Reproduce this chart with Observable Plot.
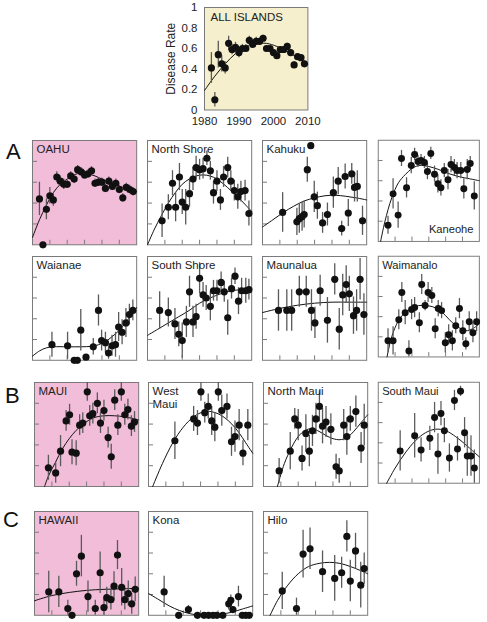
<!DOCTYPE html>
<html><head><meta charset="utf-8">
<script src="https://cdn.jsdelivr.net/npm/d3@7"></script>
<script src="https://cdn.jsdelivr.net/npm/@observablehq/plot@0.6"></script>
<style>
body{margin:0;background:#fff;}
#fig{position:relative;width:487px;height:622px;overflow:hidden;font-family:"Liberation Sans",Arial,sans-serif;}
.panel{position:absolute;}
.letter{position:absolute;font-size:22px;line-height:1;color:#111;font-family:"Liberation Sans",Arial,sans-serif;}
</style></head><body><div id="fig"></div>
<script>
// ---------- tick values ----------
const xTicks = [1985, 1990, 1995, 2000, 2005];
const yTicks = [0.2, 0.4, 0.6, 0.8];
const allXTicks = [1980, 1990, 2000, 2010];
const allYTicks = [0, 0.2, 0.4, 0.6, 0.8, 1];

// ---------- ALL ISLANDS ----------
const allYears = [1982,1983,1984,1985,1986,1987,1988,1989,1990,1991,1992,1993,1994,1995,1996,1997,1998,1999,2000,2001,2002,2003,2004,2005,2006,2007,2008,2009];
const allRates = [0.41,0.10,0.54,0.45,0.41,0.65,0.59,0.61,0.56,0.60,0.60,0.68,0.64,0.67,0.67,0.70,0.60,0.60,0.56,0.53,0.59,0.59,0.62,0.56,0.44,0.52,0.51,0.45];
const allErr = [0.15,0.07,0.13,0.08,0.06,0.07,0.05,0.05,0.05,0.04,0.04,0.04,0.04,0.04,0.03,0.03,0.03,0.03,0.03,0.03,0.03,0.03,0.03,0.03,0.03,0.03,0.03,0.03];
const allFitYears = [1980,1983,1986,1989,1992,1995,1998,2001,2004,2007,2010];
const allFitRates = [0.19,0.33,0.45,0.55,0.62,0.65,0.65,0.62,0.57,0.51,0.45];

// ---------- A: OAHU ----------
const oahuYears = [1982,1983,1984,1985,1986,1987,1988,1989,1990,1991,1992,1993,1994,1995,1996,1997,1998,1999,2000,2001,2002,2003,2004,2005,2006,2007,2008,2009];
const oahuRates = [0.44,0.0,0.34,0.47,0.43,0.65,0.61,0.58,0.58,0.66,0.63,0.72,0.70,0.67,0.68,0.71,0.59,0.60,0.60,0.54,0.61,0.56,0.59,0.53,0.45,0.55,0.53,0.51];
const oahuErr = [0.16,0,0.10,0.08,0.06,0.05,0.05,0.05,0.04,0.04,0.04,0.04,0.04,0.04,0.04,0.04,0.04,0.04,0.04,0.04,0.04,0.04,0.04,0.04,0.04,0.04,0.04,0.04];
const oahuFitYears = [1980,1982,1984,1986,1988,1990,1992,1994,1996,1998,2000,2002,2004,2006,2008,2010];
const oahuFitRates = [0.07,0.24,0.38,0.50,0.58,0.63,0.67,0.69,0.68,0.66,0.63,0.60,0.58,0.55,0.53,0.51];

const northShoreYears = [1984.2,1986.0,1987.2,1988.1,1989.2,1990.0,1991.0,1992.1,1993.1,1994.0,1995.0,1996.0,1997.1,1998.1,1999.0,2000.0,2001.0,2001.9,2003.1,2004.0,2005.0,2006.0,2006.9,2008.1,2009.2];
const northShoreRates = [0.23,0.36,0.59,0.36,0.65,0.41,0.36,0.49,0.63,0.74,0.72,0.73,0.83,0.71,0.50,0.61,0.43,0.65,0.74,0.61,0.52,0.46,0.51,0.52,0.30];
const northShoreErr = [0.16,0.12,0.12,0.14,0.13,0.12,0.17,0.13,0.11,0.11,0.10,0.10,0.07,0.09,0.11,0.10,0.10,0.10,0.10,0.10,0.10,0.12,0.10,0.10,0.12];
const northShoreFitYears = [1980,1982,1984,1986,1988,1990,1992,1994,1996,1998,2000,2002,2004,2006,2008,2010];
const northShoreFitRates = [0.0,0.15,0.28,0.40,0.50,0.58,0.63,0.66,0.67,0.66,0.63,0.58,0.52,0.46,0.39,0.32];

const kahukuYears = [1985.8,1989.9,1990.6,1991.4,1992.0,1992.9,1993.9,1994.9,1995.8,1997.3,1998.7,2000.4,2001.8,2002.8,2003.8,2004.7,2005.7,2006.5,2007.3,2008.8];
const kahukuRates = [0.31,0.22,0.25,0.27,0.29,0.72,0.95,0.46,0.375,0.21,0.29,0.50,0.61,0.155,0.655,0.305,0.68,0.55,0.56,0.23];
const kahukuErr = [0.19,0.13,0.14,0.14,0.13,0.12,0.03,0.15,0.13,0.10,0.11,0.15,0.13,0.07,0.12,0.13,0.10,0.14,0.15,0.14];
const kahukuFitYears = [1980,1983,1986,1989,1992,1995,1998,2001,2004,2007,2010];
const kahukuFitRates = [0.17,0.24,0.31,0.37,0.42,0.45,0.47,0.475,0.465,0.45,0.43];

const kaneoheYears = [1982.9,1984.4,1985.9,1986.9,1988.4,1989.8,1990.8,1991.8,1992.7,1993.7,1994.6,1995.6,1996.7,1997.7,1998.6,1999.6,2000.7,2001.6,2002.6,2003.4,2004.5,2005.4,2006.4,2007.3,2008.5];
const kaneoheRates = [0.16,0.47,0.26,0.82,0.53,0.75,0.86,0.79,0.80,0.78,0.69,0.87,0.665,0.57,0.53,0.70,0.61,0.76,0.73,0.70,0.70,0.52,0.71,0.77,0.45];
const kaneoheErr = [0.09,0.15,0.13,0.08,0.10,0.08,0.06,0.06,0.06,0.06,0.08,0.06,0.08,0.09,0.08,0.07,0.10,0.08,0.08,0.08,0.08,0.10,0.10,0.07,0.14];
const kaneoheFitYears = [1980.7,1982,1984,1986,1988,1990,1992,1995,1998,2001,2004,2007,2010];
const kaneoheFitRates = [0.0,0.2,0.43,0.58,0.66,0.72,0.75,0.74,0.71,0.67,0.64,0.62,0.60];

const waianaeYears = [1985.6,1990.1,1992.0,1992.9,1993.9,1995.4,1997.5,1999.0,1999.9,2001.0,2001.9,2002.9,2003.9,2004.8,2005.8,2006.9,2007.9,2008.9];
const waianaeRates = [0.15,0.14,0.0,0.0,0.29,0.03,0.13,0.48,0.19,0.17,0.07,0.14,0.15,0.32,0.27,0.36,0.44,0.48];
const waianaeErr = [0.12,0.13,0,0,0.20,0.02,0.08,0.15,0.10,0.10,0.06,0.10,0.12,0.14,0.12,0.14,0.10,0.10];
const waianaeFitYears = [1980,1982,1984,1986,1990,1994,1997,1999,2001,2003,2005,2007,2009,2010];
const waianaeFitRates = [0.04,0.09,0.12,0.13,0.13,0.13,0.135,0.15,0.18,0.23,0.29,0.37,0.46,0.51];

const southShoreYears = [1983.5,1986.0,1987.9,1989.0,1990.0,1991.2,1992.1,1993.1,1994.0,1995.0,1996.0,1996.9,1998.1,1999.0,2000.0,2001.2,2002.1,2003.1,2004.2,2005.2,2006.2,2007.1,2008.3,2009.2];
const southShoreRates = [0.48,0.46,0.35,0.25,0.19,0.37,0.66,0.37,0.42,0.79,0.63,0.60,0.52,0.67,0.67,0.75,0.66,0.41,0.69,0.81,0.57,0.67,0.67,0.68];
const southShoreErr = [0.18,0.14,0.15,0.12,0.17,0.15,0.15,0.15,0.12,0.15,0.12,0.12,0.14,0.10,0.10,0.10,0.10,0.17,0.10,0.08,0.13,0.12,0.12,0.10];
const southShoreFitYears = [1980,1983,1986,1989,1992,1995,1998,2001,2004,2007,2010];
const southShoreFitRates = [0.24,0.30,0.36,0.42,0.48,0.55,0.60,0.64,0.67,0.68,0.69];

const maunaluaYears = [1984.6,1987.0,1988.4,1990.6,1992.6,1994.1,1995.1,1996.6,1998.7,2000.8,2002.1,2003.1,2004.1,2005.0,2006.2,2007.1,2008.1,2009.2];
const maunaluaRates = [0.48,0.48,0.48,0.66,0.66,0.48,0.36,0.67,0.385,0.78,0.30,0.63,0.73,0.64,0.43,0.48,0.78,0.44];
const maunaluaErr = [0.20,0.20,0.20,0.15,0.15,0.20,0.15,0.15,0.22,0.15,0.20,0.20,0.18,0.17,0.18,0.20,0.20,0.20];
const maunaluaFitYears = [1980,1985,1990,1995,2000,2005,2010];
const maunaluaFitRates = [0.46,0.50,0.53,0.55,0.56,0.56,0.56];

const waimanaloYears = [1982.9,1984.4,1986.1,1987.0,1988.0,1989.1,1989.9,1990.8,1992.2,1992.9,1993.9,1994.8,1995.9,1996.9,1997.8,1998.8,1999.9,2000.9,2002.0,2003.0,2004.1,2005.1,2006.0,2007.0,2008.1,2009.2];
const waimanaloRates = [0.16,0.16,0.37,0.64,0.44,0.06,0.47,0.49,0.34,0.72,0.51,0.64,0.61,0.28,0.48,0.46,0.14,0.22,0.16,0.31,0.48,0.26,0.13,0.35,0.24,0.35];
const waimanaloErr = [0.12,0.14,0.10,0.10,0.12,0.10,0.10,0.10,0.10,0.10,0.05,0.10,0.08,0.10,0.08,0.08,0.10,0.10,0.10,0.08,0.10,0.10,0.06,0.10,0.10,0.10];
const waimanaloFitYears = [1982.6,1984,1986,1988,1990,1992,1994,1996,1998,2000,2002,2004,2006,2008,2010];
const waimanaloFitRates = [0.0,0.2,0.36,0.44,0.48,0.51,0.51,0.50,0.47,0.41,0.34,0.29,0.26,0.28,0.33];

// ---------- B: MAUI ----------
const mauiYears = [1984.0,1986.1,1987.5,1989.1,1990.1,1990.8,1992.0,1993.0,1993.9,1995.2,1995.9,1996.8,1998.1,1999.0,2000.0,2001.2,2002.1,2003.1,2004.0,2005.0,2006.0,2006.9,2007.9,2008.8];
const mauiRates = [0.18,0.13,0.34,0.63,0.69,0.33,0.32,0.59,0.61,0.91,0.68,0.70,0.80,0.61,0.73,0.47,0.285,0.83,0.59,0.91,0.69,0.74,0.58,0.62];
const mauiErr = [0.12,0.10,0.15,0.10,0.10,0.12,0.12,0.10,0.10,0.09,0.10,0.10,0.10,0.10,0.10,0.10,0.12,0.10,0.10,0.09,0.10,0.10,0.10,0.10];
const mauiFitYears = [1982.9,1984,1986,1988,1990,1992,1994,1997,2000,2003,2006,2010];
const mauiFitRates = [0.0,0.10,0.23,0.36,0.46,0.54,0.60,0.66,0.68,0.68,0.67,0.64];

const westMauiYears = [1987.6,1993.0,1994.1,1995.1,1996.2,1997.2,1998.2,1999.1,2000.1,2001.1,2002.6,2003.9,2004.9,2006.1,2007.2,2008.6];
const westMauiRates = [0.44,0.65,0.61,0.91,0.71,0.77,0.63,0.57,0.91,0.73,0.77,0.43,0.48,0.59,0.32,0.59];
const westMauiErr = [0.18,0.12,0.12,0.09,0.10,0.12,0.14,0.14,0.09,0.15,0.12,0.14,0.15,0.15,0.12,0.15];
const westMauiFitYears = [1981.2,1984,1987,1990,1993,1996,1998,2000,2002,2004,2006,2008,2010];
const westMauiFitRates = [0.0,0.22,0.42,0.57,0.67,0.72,0.72,0.70,0.66,0.60,0.52,0.42,0.32];

const northMauiYears = [1984.5,1987.7,1989.0,1990.0,1991.1,1992.2,1993.2,1994.1,1995.1,1996.1,1997.0,1998.0,1999.4,2000.9,2001.8,2003.1,2004.0,2005.0,2006.6,2008.1,2009.0];
const northMauiRates = [0.15,0.34,0.65,0.59,0.27,0.51,0.34,0.535,0.65,0.77,0.58,0.62,0.55,0.19,0.15,0.59,0.48,0.65,0.72,0.37,0.59];
const northMauiErr = [0.12,0.18,0.10,0.15,0.12,0.18,0.15,0.15,0.15,0.15,0.17,0.15,0.15,0.12,0.12,0.15,0.18,0.12,0.15,0.15,0.20];
const northMauiFitYears = [1984,1986,1988,1990,1992,1994,1996,1998,2000,2002,2004,2006,2008,2010];
const northMauiFitRates = [0.0,0.22,0.37,0.48,0.54,0.555,0.53,0.49,0.46,0.45,0.47,0.53,0.61,0.69];

const southMauiYears = [1986.5,1990.8,1992.7,1995.3,1996.7,1997.7,1998.6,1999.6,2001.1,2002.6,2003.5,2004.4,2005.6,2006.4,2007.5,2008.5];
const southMauiRates = [0.32,0.47,0.33,0.445,0.65,0.29,0.69,0.52,0.25,0.82,0.34,0.91,0.50,0.27,0.27,0.15];
const southMauiErr = [0.20,0.22,0.12,0.12,0.15,0.20,0.12,0.12,0.14,0.10,0.12,0.05,0.15,0.20,0.20,0.18];
const southMauiFitYears = [1982.5,1985,1988,1991,1994,1997,2000,2003,2006,2008,2010];
const southMauiFitRates = [0.0,0.15,0.30,0.42,0.50,0.535,0.52,0.46,0.38,0.32,0.26];

// ---------- C: HAWAII ----------
const hawaiiYears = [1984.1,1987.0,1989.6,1990.8,1992.1,1993.5,1995.4,1997.5,1998.9,2000.0,2000.8,2002.0,2002.9,2003.9,2005.1,2006.0,2007.0,2008.0,2009.0];
const hawaiiRates = [0.225,0.225,0.065,0.0,0.40,0.57,0.18,0.065,0.41,0.075,0.17,0.15,0.28,0.58,0.27,0.15,0.21,0.11,0.25];
const hawaiiErr = [0.20,0.15,0.08,0,0.12,0.20,0.15,0.08,0.20,0.08,0.10,0.10,0.14,0.14,0.18,0.10,0.12,0.10,0.12];
const hawaiiFitYears = [1980,1985,1990,1995,2000,2005,2010];
const hawaiiFitRates = [0.14,0.19,0.22,0.24,0.25,0.255,0.26];

const konaYears = [1984.5,1988.7,1991.5,1994.1,1996.0,1997.3,1998.6,1999.7,2001.4,2003.1,2003.7,2004.3,2005.9,2007.0,2008.0,2009.0];
const konaRates = [0.225,0,0.055,0,0,0,0,0,0,0.11,0.145,0.055,0.18,0,0,0];
const konaErr = [0.15,0,0.04,0,0,0,0,0,0,0.06,0.05,0.03,0.10,0,0,0];
const konaFitYears = [1980,1983,1986,1989,1992,1995,1998,2001,2004,2007,2010];
const konaFitRates = [0.21,0.15,0.09,0.045,0.015,0.0,0.0,0.01,0.03,0.06,0.09];

const hiloYears = [1985.4,1989.5,1991.4,1993.4,1997.0,2000.5,2002.5,2004.0,2005.0,2006.5,2008.0,2009.0];
const hiloRates = [0.235,0.065,0.59,0.64,0.42,0.355,0.41,0.76,0.33,0.62,0.29,0.45];
const hiloErr = [0.18,0.10,0.23,0.20,0.20,0.22,0.15,0.15,0.20,0.17,0.22,0.15];
const hiloFitYears = [1981.9,1984,1987,1990,1993,1996,1999,2002,2005,2008,2010];
const hiloFitRates = [0.0,0.14,0.29,0.40,0.47,0.50,0.51,0.50,0.47,0.43,0.40];

// ---------- styling ----------
const PINK = "#f1bdd9";
const YELLOW = "#f5efcd";
const FRAME = "#7a7a7a";
const BAR = "#5a5a5a";
const FONT = "'Liberation Sans', Arial, Helvetica, sans-serif";
const M = 8;

const fig = document.getElementById("fig");

function place(svg, left, top) {
  const d = document.createElement("div");
  d.className = "panel";
  d.style.left = left + "px";
  d.style.top = top + "px";
  d.appendChild(svg);
  fig.appendChild(d);
}

function pointsOf(years, rates, err) {
  return years.map((x, i) => ({x, v: rates[i], e: err[i]}));
}
function fitOf(years, rates) {
  return years.map((x, i) => ({x, v: rates[i]}));
}

function panel(p) {
  const w = p.w, h = p.h;
  const pts = pointsOf(p.years, p.rates, p.err);
  const fit = fitOf(p.fitYears, p.fitRates);
  const titleOpts = p.bottomRight
    ? {frameAnchor: "bottom-right", textAnchor: "end", lineAnchor: "bottom", dx: -6, dy: -9}
    : {frameAnchor: "top-left", textAnchor: "start", lineAnchor: "top", dx: 4, dy: 4};
  const svg = Plot.plot({
    width: w + 2 * M, height: h + 2 * M, margin: M,
    x: {domain: [1980, 2010], axis: null},
    y: {domain: [0, 1], axis: null, clamp: true},
    style: {fontFamily: FONT, fontSize: "11.5px", color: "#222", background: "transparent", overflow: "visible"},
    marks: [
      Plot.frame({fill: p.bg || "white", stroke: "none"}),
      Plot.tickX(xTicks, {x: d => d, insetTop: h - 4.5, stroke: FRAME, strokeWidth: 1}),
      Plot.tickY(yTicks, {y: d => d, insetRight: w - 5, stroke: FRAME, strokeWidth: 1}),
      Plot.frame({stroke: FRAME, strokeWidth: 1}),
      Plot.line(fit, {x: "x", y: "v", curve: "catmull-rom", stroke: "#111", strokeWidth: 1}),
      Plot.ruleX(pts.filter(d => d.e > 0), {x: "x", y1: d => d.v - d.e, y2: d => d.v + d.e, stroke: BAR, strokeWidth: 1.3}),
      Plot.dot(pts, {x: "x", y: "v", r: 3.6, fill: "#111", stroke: "none"}),
      Plot.text([p.title], {...titleOpts, fontSize: 11.5, fill: "#222", lineHeight: 1.1})
    ]
  });
  place(svg, p.left - M, p.top - M);
}

// ---------- top panel: ALL ISLANDS ----------
(function () {
  const left = 204.3, top = 7, w = 103.4, h = 102.5;
  const ml = 52, mt = 10, mr = 8, mb = 24;
  const pts = pointsOf(allYears, allRates, allErr);
  const fit = fitOf(allFitYears, allFitRates);
  const svg = Plot.plot({
    width: w + ml + mr, height: h + mt + mb,
    marginLeft: ml, marginTop: mt, marginRight: mr, marginBottom: mb,
    x: {domain: [1980, 2010]},
    y: {domain: [0, 1], clamp: true},
    style: {fontFamily: FONT, fontSize: "11.5px", color: "#222", background: "transparent", overflow: "visible"},
    marks: [
      Plot.frame({fill: YELLOW, stroke: "none"}),
      Plot.frame({stroke: FRAME, strokeWidth: 1}),
      Plot.axisY({ticks: allYTicks, tickSize: 0, tickPadding: 7, tickFormat: d => String(d), label: null, fontSize: 11.5}),
      Plot.axisX({ticks: allXTicks, tickSize: 0, tickPadding: 7, tickFormat: d => String(d), label: null, fontSize: 11.5}),
      Plot.text(["Disease Rate"], {frameAnchor: "left", textAnchor: "middle", rotate: -90, dx: -33, fontSize: 12, fill: "#222"}),
      Plot.line(fit, {x: "x", y: "v", curve: "catmull-rom", stroke: "#111", strokeWidth: 1}),
      Plot.ruleX(pts, {x: "x", y1: d => d.v - d.e, y2: d => d.v + d.e, stroke: BAR, strokeWidth: 1.3}),
      Plot.dot(pts, {x: "x", y: "v", r: 3.6, fill: "#111", stroke: "none"}),
      Plot.text(["ALL ISLANDS"], {frameAnchor: "top-left", textAnchor: "start", lineAnchor: "top", dx: 6, dy: 5, fontSize: 11.5, fill: "#222"})
    ]
  });
  place(svg, left - ml, top - mt);
})();

// ---------- grid of panels ----------
const rowA1 = {top: 140.2, h: 104.3}, rowA2 = {top: 255.5, h: 103.8}, rowB = {top: 382.3, h: 104}, rowC = {top: 511.3, h: 103.8};
const colsA = [32.3, 146.7, 262.3, 378.4], colsB = [33.7, 148.3, 263.3, 378.3], colsC = [34.3, 148.3, 263.3];

const panels = [
  {title: "OAHU", bg: PINK, years: oahuYears, rates: oahuRates, err: oahuErr, fitYears: oahuFitYears, fitRates: oahuFitRates, left: colsA[0], ...rowA1},
  {title: "North Shore", years: northShoreYears, rates: northShoreRates, err: northShoreErr, fitYears: northShoreFitYears, fitRates: northShoreFitRates, left: colsA[1], ...rowA1},
  {title: "Kahuku", years: kahukuYears, rates: kahukuRates, err: kahukuErr, fitYears: kahukuFitYears, fitRates: kahukuFitRates, left: colsA[2], ...rowA1},
  {title: "Kaneohe", bottomRight: true, years: kaneoheYears, rates: kaneoheRates, err: kaneoheErr, fitYears: kaneoheFitYears, fitRates: kaneoheFitRates, left: colsA[3], ...rowA1},
  {title: "Waianae", years: waianaeYears, rates: waianaeRates, err: waianaeErr, fitYears: waianaeFitYears, fitRates: waianaeFitRates, left: colsA[0], ...rowA2},
  {title: "South Shore", years: southShoreYears, rates: southShoreRates, err: southShoreErr, fitYears: southShoreFitYears, fitRates: southShoreFitRates, left: colsA[1], ...rowA2},
  {title: "Maunalua", years: maunaluaYears, rates: maunaluaRates, err: maunaluaErr, fitYears: maunaluaFitYears, fitRates: maunaluaFitRates, left: colsA[2], ...rowA2},
  {title: "Waimanalo", years: waimanaloYears, rates: waimanaloRates, err: waimanaloErr, fitYears: waimanaloFitYears, fitRates: waimanaloFitRates, left: colsA[3], ...rowA2},
  {title: "MAUI", bg: PINK, years: mauiYears, rates: mauiRates, err: mauiErr, fitYears: mauiFitYears, fitRates: mauiFitRates, left: colsB[0], ...rowB},
  {title: "West\nMaui", years: westMauiYears, rates: westMauiRates, err: westMauiErr, fitYears: westMauiFitYears, fitRates: westMauiFitRates, left: colsB[1], ...rowB},
  {title: "North Maui", years: northMauiYears, rates: northMauiRates, err: northMauiErr, fitYears: northMauiFitYears, fitRates: northMauiFitRates, left: colsB[2], ...rowB},
  {title: "South Maui", years: southMauiYears, rates: southMauiRates, err: southMauiErr, fitYears: southMauiFitYears, fitRates: southMauiFitRates, left: colsB[3], ...rowB},
  {title: "HAWAII", bg: PINK, years: hawaiiYears, rates: hawaiiRates, err: hawaiiErr, fitYears: hawaiiFitYears, fitRates: hawaiiFitRates, left: colsC[0], ...rowC},
  {title: "Kona", years: konaYears, rates: konaRates, err: konaErr, fitYears: konaFitYears, fitRates: konaFitRates, left: colsC[1], ...rowC},
  {title: "Hilo", years: hiloYears, rates: hiloRates, err: hiloErr, fitYears: hiloFitYears, fitRates: hiloFitRates, left: colsC[2], ...rowC}
];
const panelWidth = 104.2;
panels.forEach(p => panel({...p, w: panelWidth}));

// ---------- section letters ----------
const letters = [{t: "A", left: 6, top: 140.5}, {t: "B", left: 5, top: 384.5}, {t: "C", left: 3, top: 508.5}];
letters.forEach(l => {
  const d = document.createElement("div");
  d.className = "letter";
  d.textContent = l.t;
  d.style.left = l.left + "px";
  d.style.top = l.top + "px";
  fig.appendChild(d);
});
</script></body></html>
